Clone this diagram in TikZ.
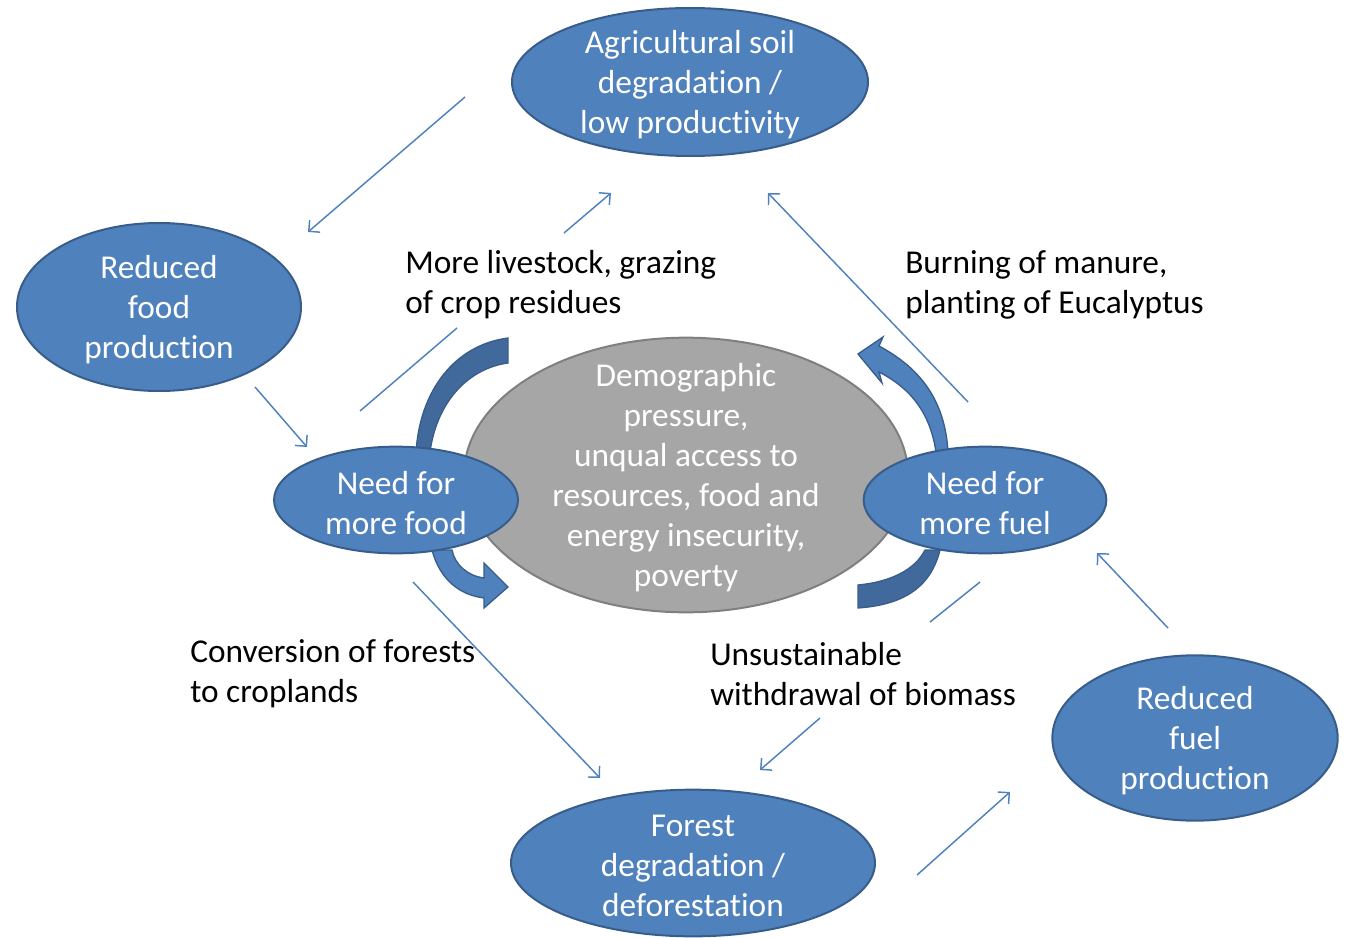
\documentclass[tikz,border=0pt]{standalone}
\usepackage{fontspec}
\setmainfont{Carlito}[Ligatures=NoCommon]
\usetikzlibrary{shapes.geometric,arrows.meta}
\definecolor{nodeblue}{HTML}{4F81BD}
\definecolor{nodeline}{HTML}{385D8A}
\definecolor{darkband}{HTML}{41699C}
\definecolor{greyfill}{HTML}{A6A6A6}
\definecolor{greyline}{HTML}{7F7F7F}
\begin{document}
\begin{tikzpicture}[x=0.75pt,y=-0.75pt,
	blob/.style={ellipse,draw=nodeline,fill=nodeblue,line width=1.5pt,inner sep=0pt},
	core/.style={blob,draw=greyline,fill=greyfill},
	words/.style={text=white,align=center,inner sep=0pt,yshift=-2.3pt,font=\fontsize{25}{30}\selectfont},
	note/.style={align=left,anchor=west,inner sep=0pt,font=\fontsize{25}{30}\selectfont},
	link/.style={draw=nodeblue,line width=1.1pt,-{Straight Barb[length=6pt,width=12pt]}},
	band/.style={fill=darkband,draw=nodeline,line width=1pt},
	swoop/.style={fill=nodeblue,draw=nodeline,line width=1pt}]
	\useasboundingbox (0,0) rectangle (1352,938);
	% Curved block arrows around the core
	\draw[band] (508,338) .. controls (455,345) and (420,390) .. (416,452) -- (430,452) .. controls (437,400) and (470,368) .. (508,363) -- cycle;
	\draw[swoop] (432,550) .. controls (440,580) and (460,595) .. (484,598) -- (484,608) -- (508,587) -- (484,563) -- (484,578) .. controls (468,576) and (455,565) .. (452,550) -- cycle;
	\draw[swoop] (948,452) .. controls (945,400) and (920,368) .. (879,346) -- (883,337) -- (858,354) -- (882,383) -- (879,372) .. controls (910,388) and (930,412) .. (936,452) -- cycle;
	\draw[band] (940,550) .. controls (930,590) and (900,605) .. (858,608) -- (858,585) .. controls (890,582) and (915,570) .. (925,550) -- cycle;
	% Ellipses
	\node[core,minimum width=333pt,minimum height=206pt] (core) at (686,475) {};
	\node[blob,minimum width=267pt,minimum height=111pt] (soil) at (690,82) {};
	\node[blob,minimum width=213pt,minimum height=126pt] (rfood) at (159,307) {};
	\node[blob,minimum width=183pt,minimum height=80pt] (nfood) at (396,500) {};
	\node[blob,minimum width=182pt,minimum height=80pt] (nfuel) at (985,500) {};
	\node[blob,minimum width=214pt,minimum height=124pt] (rfuel) at (1195,738) {};
	\node[blob,minimum width=273pt,minimum height=110pt] (forest) at (693,863) {};
	% Ellipse texts
	\node[words] (core-t) at (core) {Demographic\\pressure,\\unqual access to\\resources, food and\\energy insecurity,\\poverty};
	\node[words] (soil-t) at (soil) {Agricultural soil\\degradation /\\low productivity};
	\node[words] (rfood-t) at (rfood) {Reduced\\food\\production};
	\node[words] (nfood-t) at (nfood) {Need for\\more food};
	\node[words] (nfuel-t) at (nfuel) {Need for\\more fuel};
	\node[words] (rfuel-t) at (rfuel) {Reduced\\fuel\\production};
	\node[words] (forest-t) at (forest) {Forest\\degradation /\\deforestation};
	% Labels
	\node[note] (graze) at (405,285) {More livestock, grazing\\of crop residues};
	\node[note] (burn) at (905,285) {Burning of manure,\\planting of Eucalyptus};
	\node[note] (convert) at (190,674) {Conversion of forests\\to croplands};
	\node[note] (withdraw) at (710,674) {Unsustainable\\withdrawal of biomass};
	% Connector ends
	\coordinate (a1) at (465,97);   \coordinate (b1) at (308,232);
	\coordinate (a2) at (255,387);  \coordinate (b2) at (307,447);
	\coordinate (a3) at (360,411);  \coordinate (b3) at (457,328);
	\coordinate (a4) at (564,233);  \coordinate (b4) at (611,193);
	\coordinate (a5) at (968,402);  \coordinate (b5) at (768,193);
	\coordinate (a6) at (413,582);  \coordinate (b6) at (600,778);
	\coordinate (a7) at (980,582);  \coordinate (b7) at (930,622);
	\coordinate (a8) at (820,718);  \coordinate (b8) at (760,770);
	\coordinate (a9) at (917,875);  \coordinate (b9) at (1010,792);
	\coordinate (a10) at (1168,628); \coordinate (b10) at (1097,553);
	% Connectors
	\draw[link] (a1) -- (b1);
	\draw[link] (a2) -- (b2);
	\draw[draw=nodeblue,line width=1.1pt] (a3) -- (b3);
	\draw[link] (a4) -- (b4);
	\draw[link] (a5) -- (b5);
	\draw[link] (a6) -- (b6);
	\draw[draw=nodeblue,line width=1.1pt] (a7) -- (b7);
	\draw[link] (a8) -- (b8);
	\draw[link] (a9) -- (b9);
	\draw[link] (a10) -- (b10);
\end{tikzpicture}
\end{document}
